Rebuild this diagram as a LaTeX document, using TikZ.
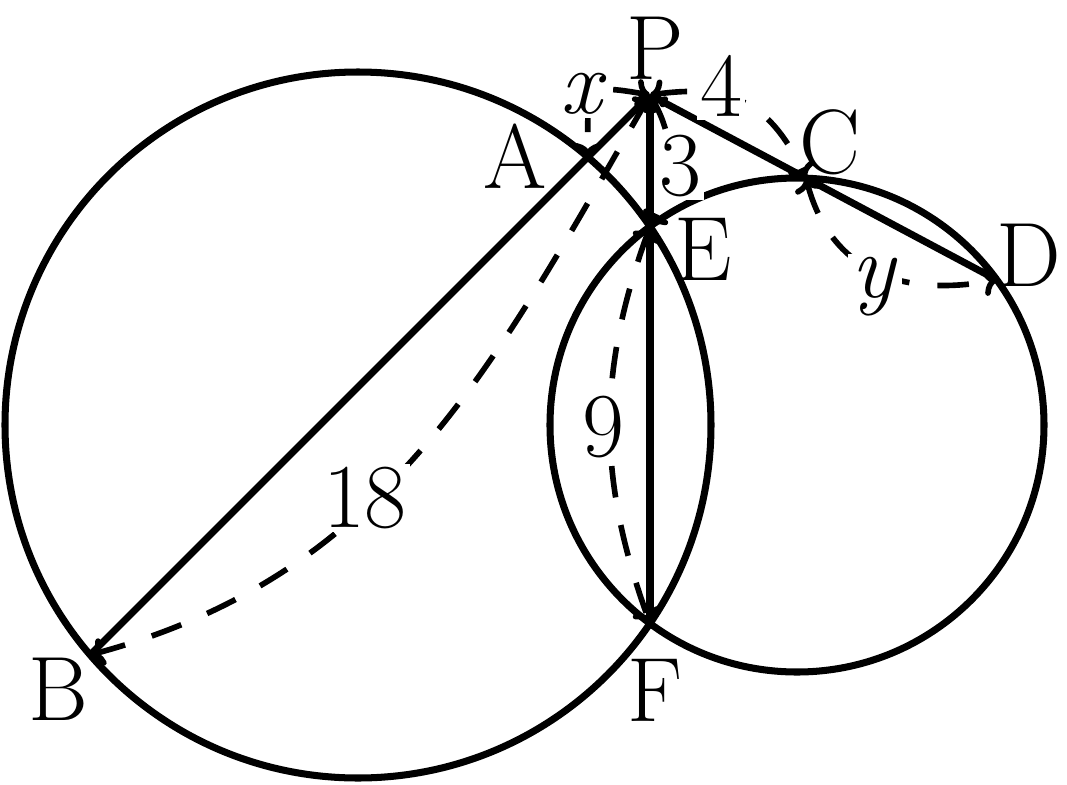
\documentclass[tikz,border=0pt]{standalone}
\usepackage{fontspec}
\usetikzlibrary{arrows.meta}
\begin{document}
\begin{tikzpicture}[
  geom/.style={line width=2pt},
  dim/.style={line width=1.6pt, dash pattern=on 9pt off 8pt,
    {To[length=4pt,width=8pt]}-{To[length=4pt,width=8pt]}},
  ptlabel/.style={font=\fontsize{26}{31}\selectfont, inner sep=0pt},
  dimlabel/.style={font=\fontsize{26}{31}\selectfont, fill=white, inner sep=1pt},
]
\useasboundingbox (0,0) rectangle (10.67,7.84);
% points
\coordinate (O1) at (3.58,3.59);
\coordinate (O2) at (7.97,3.59);
\coordinate (P) at (6.50,6.89);
\coordinate (A) at (5.879,6.269);
\coordinate (B) at (0.901,1.291);
\coordinate (C) at (8.059,6.059);
\coordinate (D) at (9.971,5.040);
\coordinate (E) at (6.50,5.574);
\coordinate (F) at (6.50,1.606);
% circles
\draw[geom] (O1) circle[radius=3.53];
\draw[geom] (O2) circle[radius=2.47];
% secants
\draw[geom] (P) -- (B);
\draw[geom] (P) -- (D);
\draw[geom] (P) -- (F);
% dimension arcs
\draw[dim] (P) to[out=170,in=90,looseness=2] (A);
\draw[dim] (P) to[out=8,in=115,looseness=1.2] (C);
\draw[dim] (P) to[out=-60,in=60] (E);
\draw[dim] (C) to[out=-75,in=190,looseness=1.15] (D);
\draw[dim] (E) to[out=-110,in=110] (F);
\draw[dim] (P) to[out=-120,in=15] (B);
% arc labels
\node[dimlabel] (lx) at (5.84,6.90) {\textit{x}};
\node[dimlabel] (l4) at (7.21,6.98) {4};
\node[dimlabel] (l3) at (6.80,6.18) {3};
\node[dimlabel] (ly) at (8.75,4.97) {\textit{y}};
\node[dimlabel] (l9) at (6.03,3.57) {9};
\node[dimlabel] (l18) at (3.65,2.86) {18};
% point labels
\node[ptlabel] (lP) at (6.55,7.36) {P};
\node[ptlabel] (lA) at (5.15,6.28) {A};
\node[ptlabel] (lC) at (8.30,6.42) {C};
\node[ptlabel] (lE) at (7.03,5.35) {E};
\node[ptlabel] (lD) at (10.29,5.29) {D};
\node[ptlabel] (lB) at (0.58,0.95) {B};
\node[ptlabel] (lF) at (6.55,0.94) {F};
\end{tikzpicture}
\end{document}
